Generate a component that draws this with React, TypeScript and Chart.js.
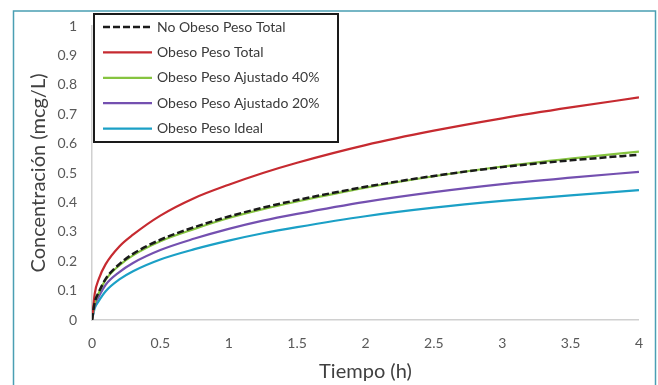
import React, { useEffect, useRef } from "react";
import { Chart, registerables } from "chart.js";

Chart.register(...registerables);

const times = [0, 0.02, 0.05, 0.1, 0.2, 0.3, 0.5, 0.75, 1, 1.25, 1.5, 2, 2.5, 3, 3.5, 4];
const noObesoTotal = [0, 0.06, 0.095, 0.14, 0.19, 0.225, 0.273, 0.316, 0.352, 0.382, 0.408, 0.453, 0.49, 0.52, 0.543, 0.562];
const obesoTotal = [0, 0.09, 0.14, 0.19, 0.25, 0.29, 0.355, 0.415, 0.46, 0.5, 0.535, 0.595, 0.644, 0.686, 0.723, 0.757];
const ajustado40 = [0, 0.058, 0.092, 0.137, 0.186, 0.22, 0.268, 0.31, 0.347, 0.377, 0.403, 0.45, 0.489, 0.522, 0.549, 0.573];
const ajustado20 = [0, 0.05, 0.08, 0.12, 0.163, 0.194, 0.238, 0.277, 0.31, 0.338, 0.361, 0.402, 0.435, 0.462, 0.484, 0.504];
const pesoIdeal = [0, 0.04, 0.065, 0.098, 0.138, 0.166, 0.206, 0.241, 0.27, 0.295, 0.316, 0.353, 0.382, 0.405, 0.424, 0.442];

const seriesLabels = [
  "No Obeso Peso Total",
  "Obeso Peso Total",
  "Obeso Peso Ajustado 40%",
  "Obeso Peso Ajustado 20%",
  "Obeso Peso Ideal",
];
const xTitle = "Tiempo (h)";
const yTitle = "Concentración (mcg/L)";

const FONT = "Lato, 'Open Sans', sans-serif";

const toPoints = (vals: number[]) => vals.map((v, i) => ({ x: times[i], y: v }));

const framePlugin = {
  id: "frame",
  beforeDraw(chart: any) {
    const ctx = chart.ctx;
    ctx.save();
    ctx.fillStyle = "#ffffff";
    ctx.fillRect(0, 0, chart.width, chart.height);
    ctx.strokeStyle = "#4a9fb3";
    ctx.lineWidth = 1.5;
    ctx.strokeRect(13.5, 11, 642, 400);
    ctx.restore();
  },
};

const legendPlugin = {
  id: "boxLegend",
  afterDraw(chart: any) {
    const ctx = chart.ctx;
    const x0 = 94, y0 = 14, w = 244, h = 128;
    ctx.save();
    ctx.fillStyle = "#ffffff";
    ctx.fillRect(x0, y0, w, h);
    ctx.strokeStyle = "#1a1a1a";
    ctx.lineWidth = 2;
    ctx.strokeRect(x0, y0, w, h);
    chart.data.datasets.forEach((ds: any, i: number) => {
      const cy = 27 + i * 25.4;
      ctx.beginPath();
      ctx.strokeStyle = ds.borderColor;
      ctx.lineWidth = ds.borderWidth;
      ctx.setLineDash(ds.borderDash || []);
      ctx.moveTo(103, cy);
      ctx.lineTo(152, cy);
      ctx.stroke();
      ctx.setLineDash([]);
      ctx.fillStyle = "#3a3a3a";
      ctx.font = `14px ${FONT}`;
      ctx.textBaseline = "middle";
      ctx.textAlign = "left";
      ctx.fillText(ds.label, 157, cy);
    });
    ctx.restore();
  },
};

export default function App() {
  const ref = useRef<HTMLCanvasElement | null>(null);
  useEffect(() => {
    document.body.style.margin = "0";
    const c = ref.current;
    if (!c) return;
    const mk = (label: string, vals: number[], color: string, width: number, dash?: number[]) => ({
      label,
      data: toPoints(vals),
      borderColor: color,
      backgroundColor: color,
      borderWidth: width,
      borderDash: dash || [],
      pointRadius: 0,
      cubicInterpolationMode: "monotone" as const,
      fill: false,
    });
    const chart = new Chart(c, {
      type: "line",
      data: {
        datasets: [
          mk(seriesLabels[0], noObesoTotal, "#1a1a1a", 2.5, [7, 3]),
          mk(seriesLabels[1], obesoTotal, "#c62a30", 2.2),
          mk(seriesLabels[2], ajustado40, "#86c440", 2.2),
          mk(seriesLabels[3], ajustado20, "#7450b0", 2.2),
          mk(seriesLabels[4], pesoIdeal, "#1ba0c6", 2.2),
        ],
      },
      options: {
        responsive: false,
        animation: false,
        layout: { padding: { left: 0, top: 26, right: 18, bottom: 0 } },
        plugins: { legend: { display: false }, tooltip: { enabled: false } },
        scales: {
          x: {
            type: "linear",
            min: 0,
            max: 4,
            grid: { display: false, drawTicks: false },
            border: { display: true, color: "#d0d0d0", width: 1.5 },
            ticks: {
              stepSize: 0.5,
              padding: 15,
              color: "#595959",
              font: { family: FONT, size: 14 },
              callback: (v: any) => String(Number(Number(v).toFixed(1))),
            },
            title: {
              display: true,
              text: xTitle,
              color: "#404040",
              font: { family: FONT, size: 20 },
              padding: { top: 0, bottom: 1.5 },
            },
            afterFit: (s: any) => {
              s.height = 65;
            },
          },
          y: {
            min: 0,
            max: 1,
            grid: { display: false, drawTicks: false },
            border: { display: true, color: "#d0d0d0", width: 1.5 },
            ticks: {
              stepSize: 0.1,
              padding: 15,
              color: "#595959",
              font: { family: FONT, size: 14 },
              callback: (v: any) => String(Number(Number(v).toFixed(1))),
            },
            title: {
              display: true,
              text: yTitle,
              color: "#404040",
              font: { family: FONT, size: 20 },
              padding: { top: 27, bottom: 0 },
            },
            afterFit: (s: any) => {
              s.width = 92;
            },
          },
        },
      },
      plugins: [framePlugin, legendPlugin],
    });
    return () => chart.destroy();
  }, []);
  return <canvas ref={ref} width={658} height={385} />;
}
